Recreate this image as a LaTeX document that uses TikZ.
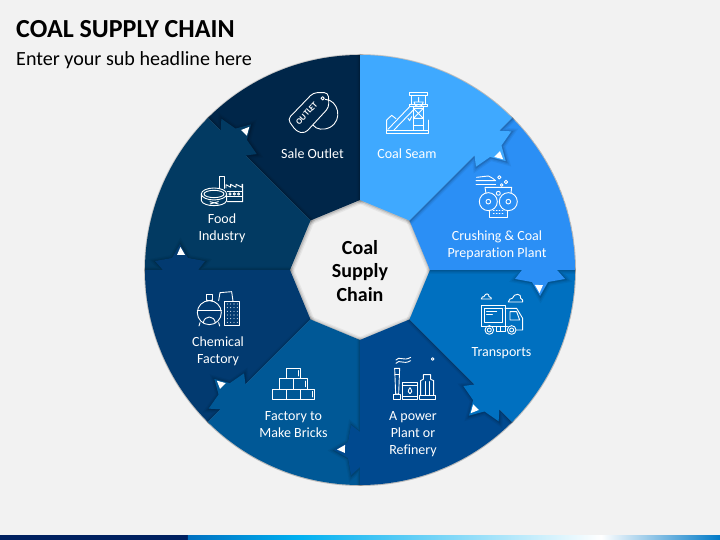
\documentclass[tikz,border=0pt]{standalone}
\usepackage{fontspec}
\setmainfont{Carlito}[Ligatures={NoCommon}]
\definecolor{pagebg}{HTML}{F2F2F2}
\definecolor{segone}{HTML}{3FA9FF}
\definecolor{segtwo}{HTML}{2B8FF5}
\definecolor{segthree}{HTML}{0070C0}
\definecolor{segfour}{HTML}{00498F}
\definecolor{segfive}{HTML}{005896}
\definecolor{segsix}{HTML}{023A70}
\definecolor{segseven}{HTML}{023A62}
\definecolor{segeight}{HTML}{002649}
\definecolor{barnavy}{HTML}{002060}
\definecolor{barblue}{HTML}{0070C0}
\definecolor{barsky}{HTML}{00B0F0}
\newcommand{\segshape}[1]{(#1:70) -- (#1:215) arc (#1:#1-45:215) -- (#1-45:197) -- (#1-47.5:205.2) -- (#1-48.65:188.4) -- (#1-53.2:181.9) -- (#1-49:172.4) -- (#1-48.3:155.3) -- (#1-45:162) -- (#1-45:70) -- cycle}
\newcommand{\segplain}[1]{(#1:70) -- (#1:215) arc (#1:#1-45:215) -- (#1-45:70) -- cycle}
\newcommand{\softshadow}[1]{
	\begin{scope}
		\clip (0,0) circle (216);
		\foreach \w/\o in {7pt/.05,4.5pt/.07,2pt/.12}
			\draw[black,opacity=\o,line width=\w,shift={(.5,-.5)}] #1;
	\end{scope}
}
\tikzset{
	seglabel/.style={white,align=center,font=\fontsize{14}{17}\selectfont},
	hublabel/.style={black,align=center,font=\fontsize{20}{23.5}\selectfont\bfseries},
	icon/.style={shift={#1},x=.3333pt,y=-.3333pt,white,line width=.9pt,line join=round,line cap=round}
}
\begin{document}
\begin{tikzpicture}[x=1pt,y=1pt]
	\useasboundingbox (-360,-270) rectangle (360,270);
	\fill[pagebg] (-360,-270) rectangle (360,270);
	% bottom bar
	\fill[barnavy] (-360,-270) rectangle (-172,-265);
	\shade[left color=barblue,right color=barsky] (-172,-270) rectangle (-62,-265);
	\shade[left color=barsky,right color=white] (-62,-270) rectangle (241,-265);
	\shade[left color=white,right color=barblue!85!barsky] (241,-270) rectangle (360,-265);
	% wheel
	\softshadow{\segplain{135}}
	\fill[segeight] \segplain{135};
	\foreach \a/\c in {180/segseven,-135/segsix,-90/segfive,-45/segfour,0/segthree,45/segtwo,90/segone}{
		\softshadow{\segshape{\a}}
		\fill[\c] \segshape{\a};
	}
	\foreach \a in {45,0,-45,-90,-135,-180,135}
		\fill[white] (\a-4.9:175.6) -- (\a-4.69:183.6) -- (\a-7.3:181) -- cycle;
	% titles
	\node[anchor=west,inner sep=0pt,font=\fontsize{26}{30}\selectfont\bfseries] (title) at (-344,241) {COAL SUPPLY CHAIN};
	\node[anchor=west,inner sep=0pt,font=\fontsize{20.1}{24}\selectfont] (subtitle) at (-344,210) {Enter your sub headline here};
	% labels
	\node[hublabel] (hub) at (0,-1) {Coal\\Supply\\Chain};
	\node[seglabel] (seam) at (47,116) {Coal Seam};
	\node[seglabel] (crushing) at (137,24.5) {Crushing \& Coal\\Preparation Plant};
	\node[seglabel] (transports) at (141.5,-83) {Transports};
	\node[seglabel] (power) at (53,-164) {A power\\Plant or\\Refinery};
	\node[seglabel] (bricks) at (-66.5,-155) {Factory to\\Make Bricks};
	\node[seglabel] (chemical) at (-142,-81) {Chemical\\Factory};
	\node[seglabel] (food) at (-138,41.5) {Food\\Industry};
	\node[seglabel] (outlet) at (-47.5,116) {Sale Outlet};
	% coal seam
	\begin{scope}[icon={(0,220)}]
		\draw (148,127) rectangle (203,137);
		\draw (155,137) rectangle (197,162);
		\draw (162,156) arc (180:0:14) -- cycle (176,142) -- (176,156);
		\draw (148,162) rectangle (203,169);
		\draw (160,169) -- (160,240) (190,169) -- (190,240);
		\draw (160,175) -- (190,175) -- (160,205) -- (190,205) -- cycle;
		\draw (160,225) -- (190,225);
		\draw (84,238) -- (150,169) (102,240) -- (160,180);
		\draw (80,240) rectangle (205,250);
		\draw (80,240) -- (80,210) -- (95,196) -- (108,206);
		\draw (205,240) -- (205,210);
		\draw (144,205) -- (149,212) -- (155,200);
	\end{scope}
	% crushing plant
	\begin{scope}[icon={(0,220)}]
		\draw (350,382) -- (385,378) .. controls (395,380) and (400,388) .. (407,392) -- (348,392);
		\draw (348,402) -- (407,402);
		\draw (418,382) circle (5) (438,396) circle (5) (425,405) circle (4);
		\draw (375,412) -- (455,412) -- (453,430) (375,412) -- (378,430);
		\draw (385,455) circle (27) (385,455) circle (7);
		\draw (445,455) circle (27) (445,455) circle (7);
		\draw (415,430) circle (6);
		\draw (387,482) -- (387,502) -- (443,502) -- (443,482);
		\draw[dotted] (400,482) -- (430,482) (400,491) -- (430,491);
	\end{scope}
	% truck
	\begin{scope}[icon={(0,0)}]
		\draw (364,87) .. controls (364,80) and (370,80) .. (372,80) .. controls (376,68) and (388,70) .. (387,80) .. controls (392,80) and (395,84) .. (394,87) -- cycle;
		\draw (445,96) .. controls (446,88) and (452,85) .. (457,85) .. controls (462,68) and (486,70) .. (482,85) .. controls (488,86) and (489,92) .. (488,96) -- cycle;
		\draw (365,107) rectangle (435,170);
		\draw (373,115) rectangle (427,158);
		\draw (380,125) -- (410,125) (380,133) -- (397,133);
		\draw (435,115) -- (470,115) -- (488,145) -- (488,180) -- (470,180);
		\draw (450,125) -- (470,125) -- (479,150) -- (450,150) -- cycle;
		\draw (388,180) circle (13) (388,180) circle (6);
		\draw (455,180) circle (13) (455,180) circle (6);
		\draw (365,170) -- (375,170) (405,170) -- (442,170);
		\draw (410,170) rectangle (435,185) (422,170) -- (422,185);
	\end{scope}
	% power plant
	\begin{scope}[icon={(0,0)}]
		\draw (108,270) .. controls (118,256) and (130,276) .. (152,262);
		\draw (108,280) .. controls (118,266) and (130,286) .. (152,272);
		\draw (218,267) circle (4);
		\draw (104,295) -- (107,372) -- (116,372) -- (119,295) -- cycle;
		\draw (105,312) -- (118,312);
		\draw (100,372) rectangle (122,388);
		\draw (127,337) rectangle (172,388) (127,346) -- (172,346) (127,379) -- (172,379);
		\draw (150,353) .. controls (143,362) and (143,371) .. (150,371) .. controls (157,371) and (157,362) .. (150,353) -- cycle;
		\draw (178,375) rectangle (225,388);
		\draw (182,375) -- (182,332) -- (190,328) -- (190,314) -- (212,314) -- (212,328) -- (221,332) -- (221,375);
		\draw (195,335) -- (195,375) (207,335) -- (207,375);
	\end{scope}
	% bricks
	\begin{scope}[icon={(-220,0)}]
		\draw (440,295) rectangle (482,325);
		\draw (418,325) rectangle (461,357) (461,325) rectangle (503,357);
		\draw (397,357) rectangle (439,388) (439,357) rectangle (481,388) (481,357) rectangle (524,388);
		\draw (476,302) -- (476,318) (497,333) -- (497,350) (517,364) -- (517,381);
	\end{scope}
	% chemical factory
	\begin{scope}[icon={(-220,0)}]
		\draw (208,128) circle (36);
		\draw (198,72) rectangle (218,90) (201,90) -- (201,92) (215,90) -- (215,92);
		\draw (172,120) -- (244,120);
		\draw (190,159) .. controls (192,135) and (224,135) .. (226,159);
		\draw (180,158) -- (177,168) (236,158) -- (239,168);
		\draw (236,92) -- (240,68) -- (275,65) -- (279,93);
		\draw (253,93) rectangle (298,165);
		\foreach \i in {262,272,282,292}
			\foreach \j in {102,113,124,135,146,157}
				\fill[white] (\i,\j) circle (1.6);
	\end{scope}
	% food industry
	\begin{scope}[icon={(-220,220)}]
		\draw (222,432) ellipse (38 and 18) (222,432) ellipse (30 and 11);
		\draw (184,432) -- (184,452) .. controls (190,472) and (254,472) .. (260,452) -- (260,432);
		\draw (210,455) -- (235,462) (210,462) -- (235,455);
		\draw (238,415) -- (238,380) -- (252,380) -- (252,415);
		\draw (258,414) -- (258,404) -- (272,412) -- (272,403) -- (288,412) -- (288,403) -- (306,412) -- (306,403) -- (308,403) -- (308,455) -- (262,455);
		\draw (262,424) -- (306,424) -- (306,440) -- (262,440);
		\draw (270,432) circle (3.5) (283,432) circle (3.5) (296,432) circle (3.5);
	\end{scope}
	% sale outlet
	\begin{scope}[icon={(-220,220)}]
		\draw[rounded corners=4pt] (443,208) -- (520,128) -- (565,128) -- (567,172) -- (495,250) -- (470,245) -- cycle;
		\draw (548,145) circle (5);
		\draw (556,148) .. controls (595,150) and (610,210) .. (570,232) .. controls (550,242) and (528,238) .. (520,226);
		\node[white,rotate=47,inner sep=0pt,font=\fontsize{8.5}{10}\selectfont\bfseries] (tag) at (500,190) {OUTLET};
	\end{scope}
\end{tikzpicture}
\end{document}
